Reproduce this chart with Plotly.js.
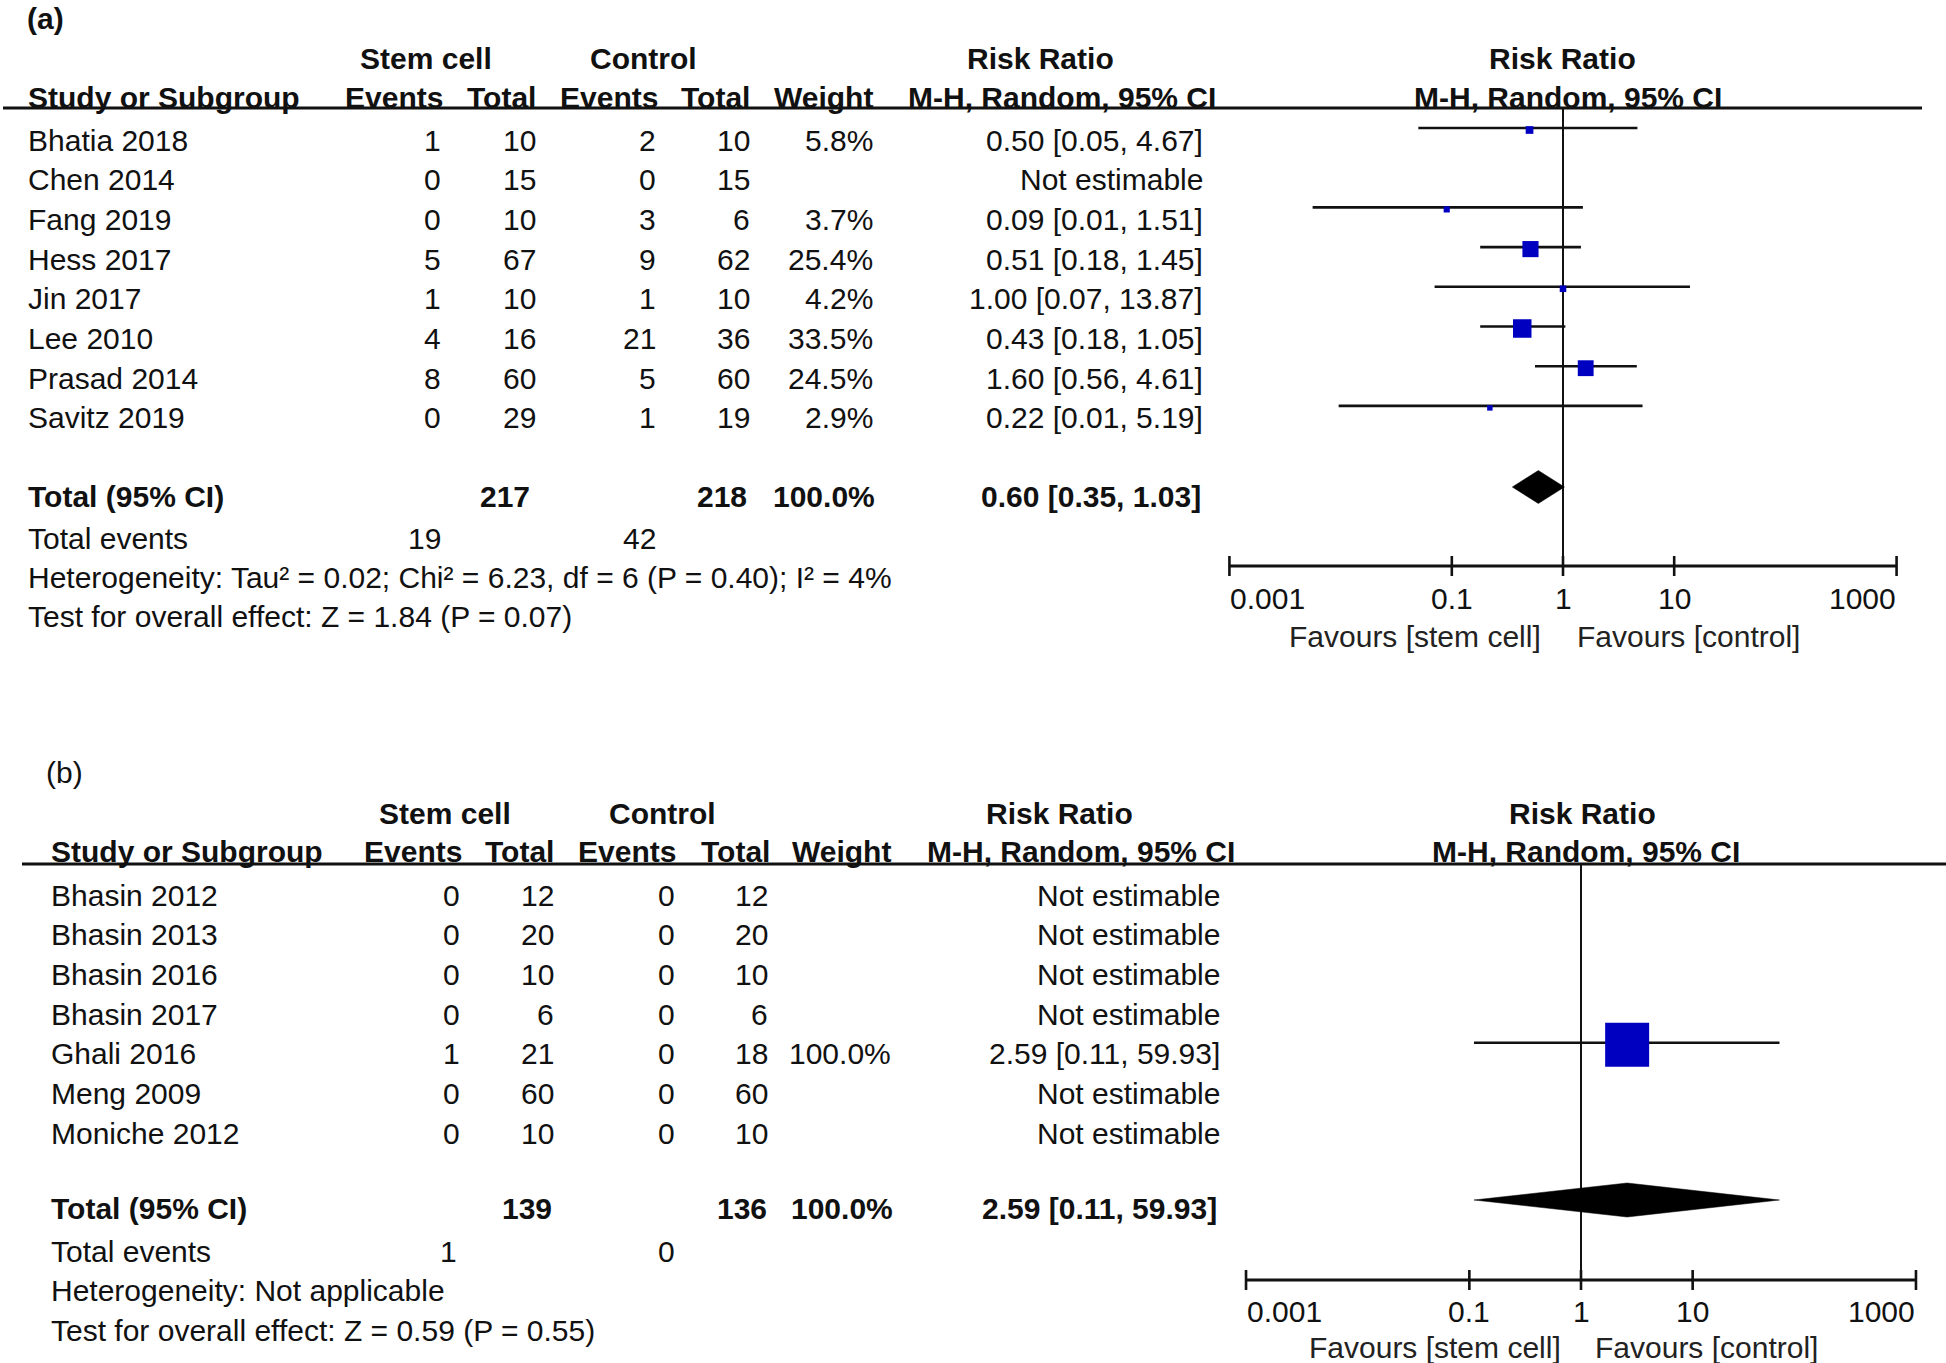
<!DOCTYPE html>
<html><head><meta charset="utf-8">
<script src="https://cdn.plot.ly/plotly-3.0.1.min.js"></script>
<style>html,body{margin:0;padding:0;background:#fff}</style>
</head><body><div id="chart" style="width:1946px;height:1363px"></div>
<script>
// ---------- Panel (a) data ----------
const studiesA    = ['Bhatia 2018','Chen 2014','Fang 2019','Hess 2017','Jin 2017','Lee 2010','Prasad 2014','Savitz 2019'];
const stemEventsA = [1, 0, 0, 5, 1, 4, 8, 0];
const stemTotalA  = [10, 15, 10, 67, 10, 16, 60, 29];
const ctrlEventsA = [2, 0, 3, 9, 1, 21, 5, 1];
const ctrlTotalA  = [10, 15, 6, 62, 10, 36, 60, 19];
const weightA     = [5.8, null, 3.7, 25.4, 4.2, 33.5, 24.5, 2.9];
const rrA         = [0.50, null, 0.09, 0.51, 1.00, 0.43, 1.60, 0.22];
const lowA        = [0.05, null, 0.0056, 0.18, 0.07, 0.18, 0.56, 0.0096];
const highA       = [4.67, null, 1.51, 1.45, 13.87, 1.05, 4.61, 5.19];
const totalA      = [217, 218];          // stem cell, control participants
const totalEventsA = [19, 42];
const totalWeightA = 100.0;
const pooledA     = [0.60, 0.35, 1.03];  // RR, low, high
const hetA  = 'Heterogeneity: Tau² = 0.02; Chi² = 6.23, df = 6 (P = 0.40); I² = 4%';
const testA = 'Test for overall effect: Z = 1.84 (P = 0.07)';

// ---------- Panel (b) data ----------
const studiesB    = ['Bhasin 2012','Bhasin 2013','Bhasin 2016','Bhasin 2017','Ghali 2016','Meng 2009','Moniche 2012'];
const stemEventsB = [0, 0, 0, 0, 1, 0, 0];
const stemTotalB  = [12, 20, 10, 6, 21, 60, 10];
const ctrlEventsB = [0, 0, 0, 0, 0, 0, 0];
const ctrlTotalB  = [12, 20, 10, 6, 18, 60, 10];
const weightB     = [null, null, null, null, 100.0, null, null];
const rrB         = [null, null, null, null, 2.59, null, null];
const lowB        = [null, null, null, null, 0.11, null, null];
const highB       = [null, null, null, null, 59.93, null, null];
const totalB      = [139, 136];
const totalEventsB = [1, 0];
const totalWeightB = 100.0;
const pooledB     = [2.59, 0.11, 59.93];
const hetB  = 'Heterogeneity: Not applicable';
const testB = 'Test for overall effect: Z = 0.59 (P = 0.55)';

// ---------- Axis ticks ----------
const tickVals   = [0.001, 0.1, 1, 10, 1000];
const tickLabels = ['0.001', '0.1', '1', '10', '1000'];
const tickAnchor = ['left', 'center', 'center', 'center', 'right'];

// ---------- drawing ----------
const W = 1946, H = 1363;
const FONT = 'Liberation Sans, Arial, Helvetica, sans-serif';
const FS = 30;
const TXT = '#111111';
const BLUE = '#0000c0';
const annotations = [], shapes = [], traces = [];

function txt(t, px, py, anchor, bold, opts) {
  const a = {
    text: bold ? '<b>' + t + '</b>' : t,
    xref: 'paper', yref: 'y', x: px / W, y: py,
    xanchor: anchor, yanchor: 'middle', showarrow: false, borderpad: 0,
    font: {family: FONT, size: FS, color: TXT}
  };
  if (opts) Object.assign(a, opts);
  annotations.push(a);
}
const f2 = v => v.toFixed(2);
const ciLabel = (rr, lo, hi) => rr == null ? 'Not estimable' : `${f2(rr)} [${f2(lo)}, ${f2(hi)}]`;
const pct = v => v == null ? '' : v.toFixed(1) + '%';

function panel(d, c) {
  const xa = c.xaxis;
  txt(c.label, c.labelX, c.labelY, 'left', c.labelBold);
  txt('Stem cell', c.stemHdrX, c.h1Y, 'center', true);
  txt('Control', c.ctrlHdrX, c.h1Y, 'center', true);
  txt('Risk Ratio', c.rrHdrX, c.h1Y, 'center', true);
  txt('Risk Ratio', c.plotHdrX1, c.h1Y, 'center', true);
  txt('Study or Subgroup', c.col.study, c.h2Y, 'left', true);
  txt('Events', c.hdr.se, c.h2Y, 'right', true);
  txt('Total', c.hdr.st, c.h2Y, 'right', true);
  txt('Events', c.hdr.ce, c.h2Y, 'right', true);
  txt('Total', c.hdr.ct, c.h2Y, 'right', true);
  txt('Weight', c.hdr.w, c.h2Y, 'right', true);
  txt('M-H, Random, 95% CI', c.hdr.rr, c.h2Y, 'right', true);
  txt('M-H, Random, 95% CI', c.plotHdrX2, c.h2Y, 'center', true);
  shapes.push({type: 'line', xref: 'paper', yref: 'y', x0: c.lineX0 / W, x1: c.lineX1 / W,
               y0: c.lineY, y1: c.lineY, line: {color: '#111', width: 2.8}});

  traces.push({x: [1, 1], y: [c.lineY, c.axisY], xaxis: xa, yaxis: 'y', mode: 'lines',
               line: {color: '#111', width: 2}, hoverinfo: 'skip', showlegend: false});

  const mx = [], my = [], ms = [];
  d.studies.forEach((s, i) => {
    const y = c.rowY0 + i * c.rowStep;
    txt(s, c.col.study, y, 'left');
    txt(String(d.se[i]), c.col.se, y, 'right');
    txt(String(d.st[i]), c.col.st, y, 'right');
    txt(String(d.ce[i]), c.col.ce, y, 'right');
    txt(String(d.ct[i]), c.col.ct, y, 'right');
    txt(pct(d.w[i]), c.col.w, y, 'right');
    txt(ciLabel(d.rr[i], d.lo[i], d.hi[i]), c.col.rr, y, 'right');
    if (d.rr[i] != null) {
      const ym = y + c.markerOff;
      traces.push({x: [d.lo[i], d.hi[i]], y: [ym, ym], xaxis: xa, yaxis: 'y', mode: 'lines',
                   line: {color: '#111', width: 2.6}, hoverinfo: 'skip', showlegend: false});
      mx.push(d.rr[i]); my.push(ym + c.boxOff); ms.push(c.sizeK * Math.sqrt(d.w[i]));
    }
  });
  traces.push({x: mx, y: my, xaxis: xa, yaxis: 'y', mode: 'markers', opacity: 1,
               marker: {symbol: 'square', color: BLUE, opacity: 1, size: ms, line: {width: 0}},
               hoverinfo: 'skip', showlegend: false});

  txt('Total (95% CI)', c.col.study, c.totalY, 'left', true);
  txt(String(d.total[0]), c.tot.st, c.totalY, 'right', true);
  txt(String(d.total[1]), c.tot.ct, c.totalY, 'right', true);
  txt(pct(d.totalW), c.tot.w, c.totalY, 'right', true);
  txt(ciLabel(d.pooled[0], d.pooled[1], d.pooled[2]), c.tot.rr, c.totalY, 'right', true);
  const yc = c.totalY + c.diamondOff, hh = c.diamondH;
  traces.push({x: [d.pooled[1], d.pooled[0], d.pooled[2], d.pooled[0], d.pooled[1]],
               y: [yc, yc - hh, yc, yc + hh, yc], xaxis: xa, yaxis: 'y', mode: 'lines',
               fill: 'toself', fillcolor: '#000', line: {color: '#000', width: 0.5},
               hoverinfo: 'skip', showlegend: false});

  txt('Total events', c.col.study, c.eventsY, 'left');
  txt(String(d.events[0]), c.ev.se, c.eventsY, 'right');
  txt(String(d.events[1]), c.ev.ce, c.eventsY, 'right');
  txt(d.het, c.col.study, c.hetY, 'left');
  txt(d.test, c.col.study, c.testY, 'left');

  traces.push({x: [tickVals[0], tickVals[tickVals.length - 1]], y: [c.axisY, c.axisY], xaxis: xa, yaxis: 'y',
               mode: 'lines', line: {color: '#111', width: 2.8}, hoverinfo: 'skip', showlegend: false});
  const tx = [], ty = [];
  tickVals.forEach(v => { tx.push(v, v, null); ty.push(c.axisY - c.tickHalf, c.axisY + c.tickHalf, null); });
  traces.push({x: tx, y: ty, xaxis: xa, yaxis: 'y', mode: 'lines', line: {color: '#111', width: 2.6},
               hoverinfo: 'skip', showlegend: false});
  tickVals.forEach((v, i) => {
    annotations.push({text: tickLabels[i], xref: xa, yref: 'y', x: Math.log10(v), y: c.tickLabY,
                      xanchor: tickAnchor[i], yanchor: 'middle', showarrow: false, borderpad: 0,
                      font: {family: FONT, size: FS, color: TXT}});
  });
  txt('Favours [stem cell]', c.favL, c.favY, 'right', false, {font: {family: FONT, size: FS, color: '#222'}});
  txt('Favours [control]', c.favR, c.favY, 'left', false, {font: {family: FONT, size: FS, color: '#222'}});
}

panel({studies: studiesA, se: stemEventsA, st: stemTotalA, ce: ctrlEventsA, ct: ctrlTotalA, w: weightA,
       rr: rrA, lo: lowA, hi: highA, total: totalA, events: totalEventsA, totalW: totalWeightA,
       pooled: pooledA, het: hetA, test: testA},
      {xaxis: 'x', label: '(a)', labelX: 26, labelY: 18, labelBold: true,
       lineX0: 3, lineX1: 1922, lineY: 108, h1Y: 58, h2Y: 97,
       stemHdrX: 426, ctrlHdrX: 643, rrHdrX: 1040, plotHdrX1: 1562, plotHdrX2: 1568,
       col: {study: 27, se: 442, st: 537, ce: 657, ct: 751, w: 874, rr: 1204},
       hdr: {se: 444, st: 537, ce: 659, ct: 751, w: 874, rr: 1217},
       rowY0: 140, rowStep: 39.7, markerOff: -12, boxOff: 2,
       totalY: 496, eventsY: 538, hetY: 577, testY: 616,
       tot: {st: 531, ct: 748, w: 876, rr: 1202}, ev: {se: 442, ce: 657},
       axisY: 566, tickHalf: 10, tickLabY: 598, favY: 636, favL: 1542, favR: 1576,
       diamondH: 16.5, diamondOff: -9, sizeK: 3.2});

panel({studies: studiesB, se: stemEventsB, st: stemTotalB, ce: ctrlEventsB, ct: ctrlTotalB, w: weightB,
       rr: rrB, lo: lowB, hi: highB, total: totalB, events: totalEventsB, totalW: totalWeightB,
       pooled: pooledB, het: hetB, test: testB},
      {xaxis: 'x2', label: '(b)', labelX: 45, labelY: 772, labelBold: false,
       lineX0: 22, lineX1: 1946, lineY: 864, h1Y: 813, h2Y: 851,
       stemHdrX: 445, ctrlHdrX: 662, rrHdrX: 1059, plotHdrX1: 1582, plotHdrX2: 1586,
       col: {study: 50, se: 461, st: 555, ce: 676, ct: 769, w: 892, rr: 1221},
       hdr: {se: 463, st: 555, ce: 677, ct: 771, w: 892, rr: 1236},
       rowY0: 895, rowStep: 39.7, markerOff: -11, boxOff: 2,
       totalY: 1208, eventsY: 1251, hetY: 1290, testY: 1330,
       tot: {st: 553, ct: 768, w: 894, rr: 1218}, ev: {se: 458, ce: 676},
       axisY: 1280, tickHalf: 10, tickLabY: 1311, favY: 1347, favL: 1562, favR: 1594,
       diamondH: 17, diamondOff: -8, sizeK: 4.4});

const layout = {
  width: W, height: H, margin: {l: 0, r: 0, t: 0, b: 0, pad: 0},
  paper_bgcolor: '#fff', plot_bgcolor: 'rgba(0,0,0,0)', showlegend: false, hovermode: false,
  xaxis:  {type: 'log', range: [-3.02, 3.02], domain: [1227.2 / W, 1898.8 / W], anchor: 'y', visible: false, fixedrange: true},
  xaxis2: {type: 'log', range: [-3.02, 3.02], domain: [1243.8 / W, 1918.2 / W], anchor: 'y', visible: false, fixedrange: true},
  yaxis:  {range: [H, 0], domain: [0, 1], visible: false, fixedrange: true},
  annotations: annotations, shapes: shapes
};
Plotly.newPlot('chart', traces, layout, {displayModeBar: false, staticPlot: true});
</script></body></html>
